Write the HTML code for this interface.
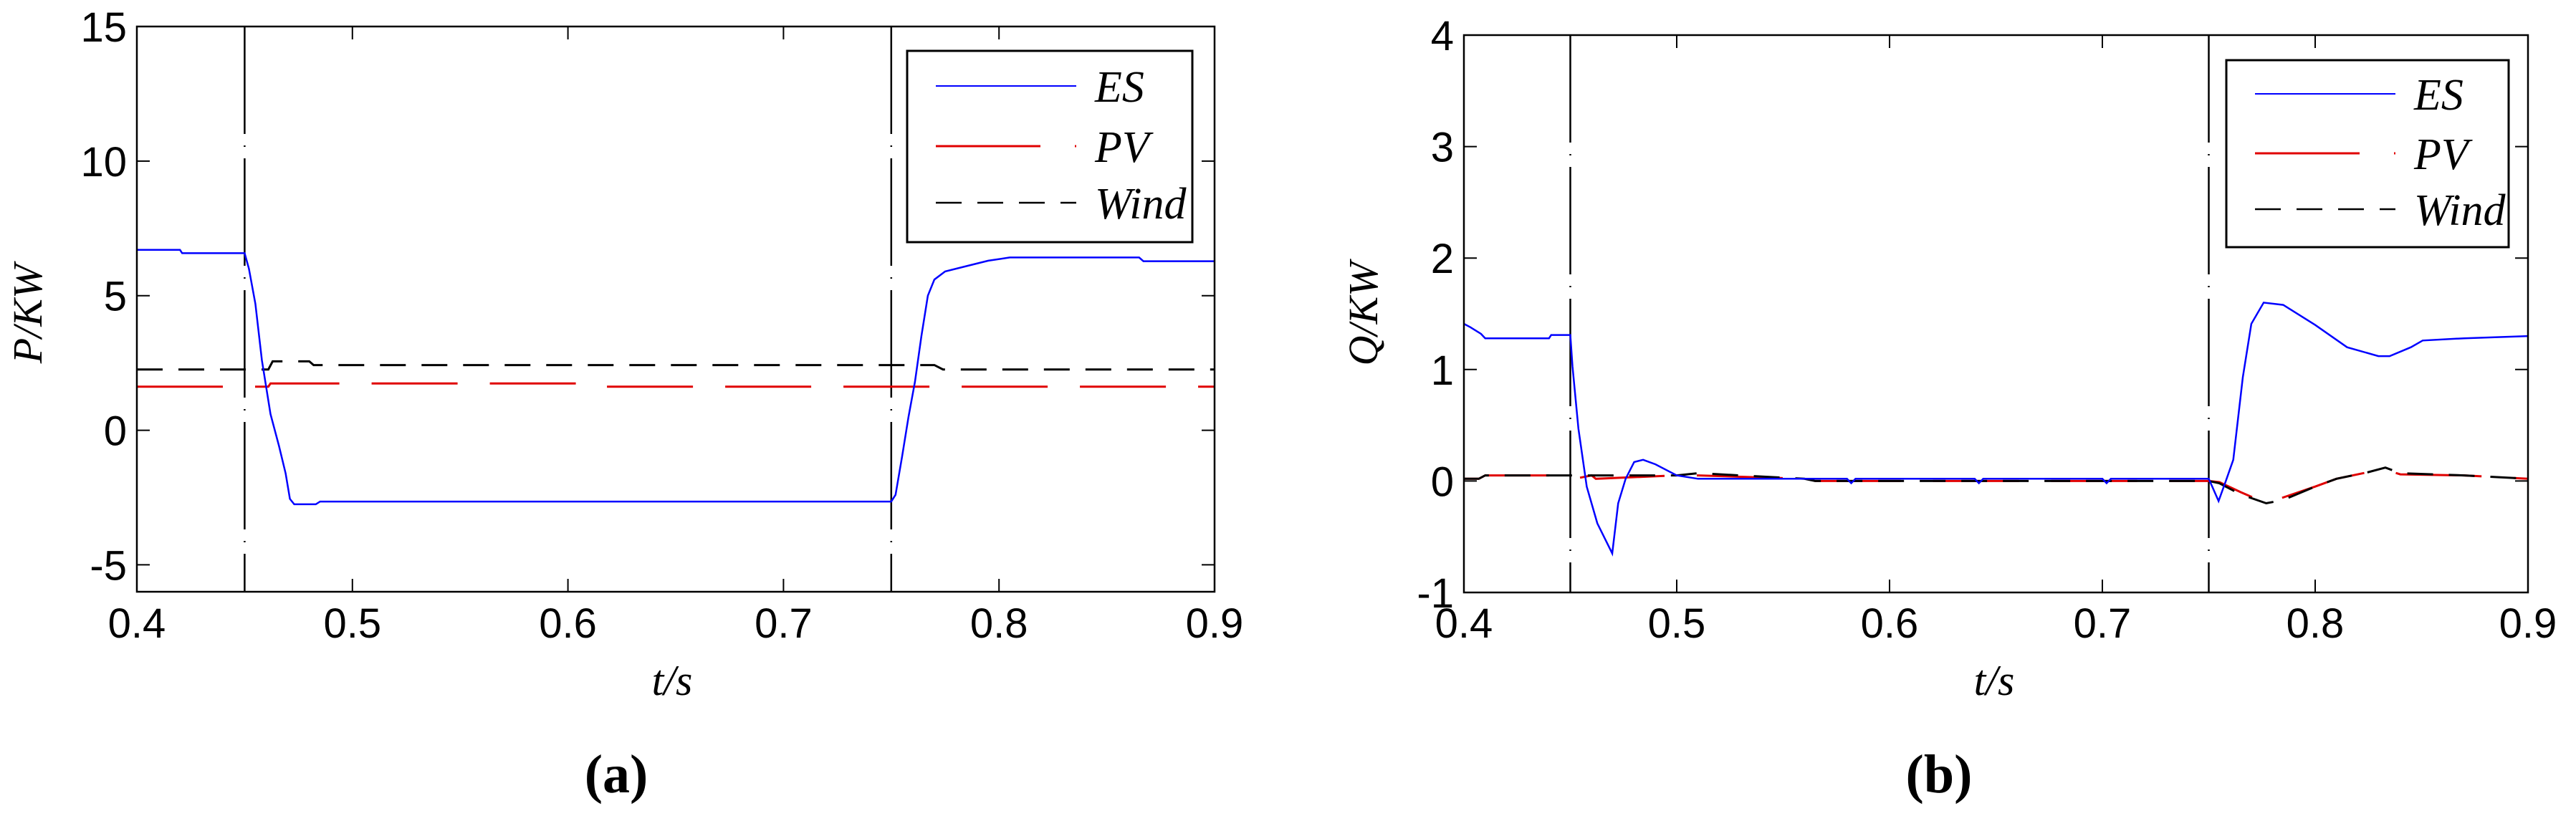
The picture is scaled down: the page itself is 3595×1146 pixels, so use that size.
<!DOCTYPE html>
<html><head><meta charset="utf-8"><style>
html,body{margin:0;padding:0;background:#fff;}
svg{display:block;}
.tick{font-family:"Liberation Sans",sans-serif;font-size:58px;fill:#000;}
.it{font-family:"Liberation Serif",serif;font-style:italic;fill:#000;}
.cap{font-family:"Liberation Serif",serif;font-weight:bold;font-size:76px;fill:#000;}
</style></head><body>
<svg id="fig" width="3595" height="1146" viewBox="0 0 3595 1146" xmlns="http://www.w3.org/2000/svg">
<rect width="3595" height="1146" fill="#fff"/>
</svg>
<script>
// ---- Panel (a) data: P (kW) vs t (s)
const pEsT=[0.4,0.42,0.421,0.45,0.452,0.455,0.458,0.462,0.466,0.469,0.471,0.473,0.483,0.485,0.75,0.752,0.755,0.758,0.761,0.764,0.767,0.77,0.775,0.785,0.795,0.805,0.865,0.867,0.9];
const pEsV=[6.7,6.7,6.58,6.58,6.0,4.7,2.6,0.6,-0.6,-1.6,-2.55,-2.75,-2.75,-2.65,-2.65,-2.4,-1.0,0.5,1.8,3.5,5.0,5.6,5.9,6.1,6.3,6.42,6.42,6.28,6.28];
const pPvT=[0.4,0.461,0.462,0.616,0.618,0.9];
const pPvV=[1.62,1.62,1.74,1.74,1.62,1.62];
const pWindT=[0.4,0.461,0.463,0.48,0.482,0.77,0.774,0.9];
const pWindV=[2.26,2.26,2.56,2.56,2.42,2.42,2.26,2.26];
const pYTicks=[-5,0,5,10,15];
const xTicks=[0.4,0.5,0.6,0.7,0.8,0.9];
// ---- Panel (b) data: Q (kW) vs t (s)
const qEsT=[0.4,0.403,0.408,0.41,0.44,0.441,0.45,0.451,0.4538,0.4577,0.4627,0.4697,0.4725,0.476,0.48,0.4842,0.49,0.5,0.51,0.58,0.582,0.584,0.64,0.642,0.644,0.7,0.702,0.704,0.75,0.7546,0.758,0.7615,0.766,0.77,0.7758,0.785,0.8,0.815,0.8297,0.835,0.845,0.8505,0.87,0.9];
const qEsV=[1.41,1.38,1.32,1.28,1.28,1.31,1.31,1.03,0.47,-0.05,-0.38,-0.65,-0.2,0.02,0.17,0.19,0.15,0.05,0.02,0.02,-0.02,0.02,0.02,-0.02,0.02,0.02,-0.02,0.02,0.02,-0.18,0.0,0.19,0.93,1.41,1.6,1.58,1.4,1.2,1.12,1.12,1.2,1.26,1.28,1.3];
const qPvT=[0.4,0.407,0.41,0.44,0.442,0.452,0.46,0.462,0.5,0.51,0.56,0.565,0.75,0.755,0.765,0.777,0.78,0.8,0.81,0.825,0.833,0.84,0.87,0.9];
const qPvV=[0.02,0.02,0.05,0.05,0.02,0.02,0.05,0.02,0.05,0.05,0.02,0.0,0.0,-0.01,-0.1,-0.2,-0.18,-0.05,0.02,0.08,0.1,0.06,0.05,0.02];
const qWindT=[0.4,0.407,0.41,0.44,0.45,0.46,0.5,0.51,0.56,0.565,0.75,0.755,0.765,0.777,0.785,0.8,0.81,0.825,0.833,0.84,0.87,0.9];
const qWindV=[0.02,0.02,0.05,0.05,0.05,0.05,0.05,0.07,0.02,0.0,0.0,-0.02,-0.12,-0.2,-0.17,-0.05,0.02,0.08,0.12,0.07,0.05,0.02];
const qYTicks=[-1,0,1,2,3,4];
const eventT=[0.45,0.75];

const NS="http://www.w3.org/2000/svg";
const svg=document.getElementById('fig');
function mk(tag,attrs,parent){const e=document.createElementNS(NS,tag);for(const k in attrs)e.setAttribute(k,attrs[k]);(parent||svg).appendChild(e);return e;}

function panel(cfg){
  const g=mk('g',{});
  
  
  const X=t=>cfg.L+(t-0.4)/(0.5)*(cfg.R-cfg.L);
  const Y=v=>cfg.T+(cfg.ymax-v)/(cfg.ymax-cfg.ymin)*(cfg.B-cfg.T);
  eventT.forEach(t=>{
    const l=mk('line',{x1:X(t),x2:X(t),y1:cfg.T,y2:cfg.B,stroke:'#000','stroke-width':2.5,'stroke-dasharray':'150 16 2 16'},g);
    
    
  });
  const ser=[[cfg.pvT,cfg.pvV,'#e00000','120 45',3,'pv-line'],[cfg.wT,cfg.wV,'#000','36 22',3,'wind-line'],[cfg.esT,cfg.esV,'#0000ff','',2.5,'es-line']];
  ser.forEach(s=>{
    const d=s[0].map((t,i)=>(i?'L':'M')+X(t).toFixed(1)+' '+Y(s[1][i]).toFixed(1)).join(' ');
    const p=mk('path',{d:d,fill:'none',stroke:s[2],'stroke-width':s[4],'stroke-dasharray':s[3]||'none'},g);
    
    
  });
  const fr=mk('rect',{x:cfg.L,y:cfg.T,width:cfg.R-cfg.L,height:cfg.B-cfg.T,fill:'none',stroke:'#000','stroke-width':2.5},g);
  
  
  xTicks.forEach(t=>{
    mk('line',{x1:X(t),x2:X(t),y1:cfg.B,y2:cfg.B-18,stroke:'#000','stroke-width':2},g);
    mk('line',{x1:X(t),x2:X(t),y1:cfg.T,y2:cfg.T+18,stroke:'#000','stroke-width':2},g);
    const tx=mk('text',{x:X(t),y:890,'text-anchor':'middle',class:'tick'},g);
    tx.textContent=t.toFixed(1);
    
    
  });
  cfg.yt.forEach(v=>{
    mk('line',{x1:cfg.L,x2:cfg.L+18,y1:Y(v),y2:Y(v),stroke:'#000','stroke-width':2},g);
    mk('line',{x1:cfg.R,x2:cfg.R-18,y1:Y(v),y2:Y(v),stroke:'#000','stroke-width':2},g);
    const tx=mk('text',{x:cfg.L-14,y:Y(v)+21,'text-anchor':'end',class:'tick'},g);
    tx.textContent=String(v);
    
    
  });
  const yl=mk('text',{x:0,y:0,'text-anchor':'middle',class:'it','font-size':58,transform:`translate(${cfg.ylx},438) rotate(-90)`},g);
  yl.textContent=cfg.ylab;
  
  
  const xl=mk('text',{x:cfg.xlx,y:970,'text-anchor':'middle',class:'it','font-size':60},g);
  xl.textContent='t/s';
  
  
  const cp=mk('text',{x:cfg.capx,y:1106,'text-anchor':'middle',class:'cap'},g);
  cp.textContent='('+cfg.cap+')';
  
  
  const lg=mk('g',{},g);
  
  
  mk('rect',{x:cfg.lgx,y:cfg.lgy,width:cfg.lgw,height:cfg.lgh,fill:'#fff',stroke:'#000','stroke-width':3},lg);
  const ents=[['ES','#0000ff','',2],['PV','#e00000','146 48',3],['Wind','#000','36 22',2.5]];
  ents.forEach((e,i)=>{
    const yy=cfg.lgy+cfg.rows[i];
    const ln=mk('line',{x1:cfg.lgx+40,x2:cfg.lgx+236,y1:yy,y2:yy,stroke:e[1],'stroke-width':e[3],'stroke-dasharray':e[2]||'none'},lg);
    
    
    const t=mk('text',{x:cfg.lgx+262,y:yy+22,class:'it','font-size':62},lg);
    t.textContent=e[0];
    
    
  });
}

panel({name:'panel-a-power',L:191,R:1695,T:37,B:826,ymin:-6,ymax:15,yt:pYTicks,
  esT:pEsT,esV:pEsV,pvT:pPvT,pvV:pPvV,wT:pWindT,wV:pWindV,
  ylab:'P/KW',ylx:58,xlx:938,capx:860,cap:'a',
  lgx:1266,lgy:71,lgw:398,lgh:267,rows:[49,133,212]});
panel({name:'panel-b-reactive',L:2043,R:3528,T:49,B:827,ymin:-1,ymax:4,yt:qYTicks,
  esT:qEsT,esV:qEsV,pvT:qPvT,pvV:qPvV,wT:qWindT,wV:qWindV,
  ylab:'Q/KW',ylx:1922,xlx:2783,capx:2706,cap:'b',
  lgx:3107,lgy:84,lgw:394,lgh:261,rows:[47,130,208]});
</script>
</body></html>
